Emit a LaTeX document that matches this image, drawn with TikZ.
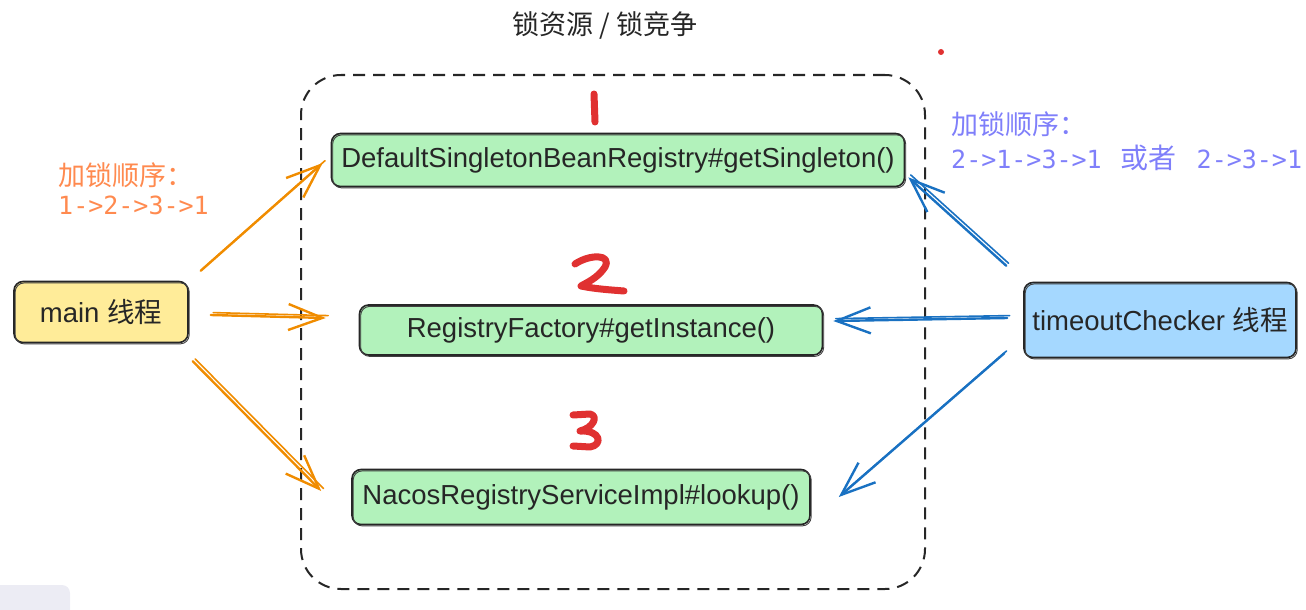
\documentclass[tikz,border=0pt]{standalone}
\usepackage{fontspec}
\setmainfont{Liberation Sans}
\newfontfamily\cjk{Noto Sans CJK SC}
\newfontfamily\monof{DejaVu Sans Mono}
\usetikzlibrary{arrows.meta,calc}
\definecolor{greenF}{HTML}{B2F2BB}
\definecolor{yellowF}{HTML}{FFEC99}
\definecolor{blueF}{HTML}{A5D8FF}
\definecolor{orangeA}{HTML}{F08C00}
\definecolor{orangeT}{HTML}{FF8A4F}
\definecolor{blueA}{HTML}{1971C2}
\definecolor{blueT}{HTML}{7F7FFA}
\definecolor{redN}{HTML}{E03131}
\definecolor{uiGray}{HTML}{ECECF4}
\begin{document}
\begin{tikzpicture}[x=1pt,y=-1pt,
  box/.style={draw=black!85, line width=1.6pt, rounded corners=9pt, inner sep=0pt,
    text=black!85, font=\fontsize{27.5}{31}\selectfont,
    postaction={draw=black!75, line width=0.9pt, transform canvas={shift={(1.2pt,-1.4pt)}}}},
  oarr/.style={draw=orangeA, line width=2.4pt, line cap=round, -{Straight Barb[length=34pt,width=26pt]},
    postaction={draw=orangeA, -, line width=1.6pt, transform canvas={shift={(2.4pt,2.4pt)}}}},
  barr/.style={draw=blueA, line width=2.4pt, line cap=round, -{Straight Barb[length=34pt,width=26pt]},
    postaction={draw=blueA, -, line width=1.6pt, transform canvas={shift={(2.4pt,2.4pt)}}}},
  num/.style={draw=redN, line width=7pt, line cap=round, line join=round},
  lbl/.style={inner sep=0pt, font=\fontsize{27}{31}\selectfont}
]
\useasboundingbox (0,0) rectangle (1306,610);

% screenshot UI remnant
\fill[uiGray, rounded corners=8pt] (-10,585) rectangle (70,630);

% title
\node[lbl, text=black!85] (title) at (605,25) {\cjk{锁资源} / \cjk{锁竞争}};

% dashed lock area
\node[draw=black!85, line width=2pt, dash pattern=on 12pt off 8pt, rounded corners=40pt,
  minimum width=624pt, minimum height=514pt, inner sep=0pt] (area) at (613,332) {};

% resource boxes
\node[box, fill=greenF, minimum width=573pt, minimum height=53pt] (r1) at (618,160)
  {DefaultSingletonBeanRegistry\#getSingleton()};
\node[box, fill=greenF, minimum width=463pt, minimum height=50pt] (r2) at (591,330)
  {RegistryFactory\#getInstance()};
\node[box, fill=greenF, minimum width=458pt, minimum height=55pt] (r3) at (581,497)
  {NacosRegistryServiceImpl\#lookup()};

% thread boxes
\node[box, fill=yellowF, minimum width=174pt, minimum height=61pt] (main) at (101,312)
  {main \cjk{线程}};
\node[box, fill=blueF, minimum width=272pt, minimum height=75pt] (tc) at (1160,320)
  {timeoutChecker \cjk{线程}};

% order texts
\node[lbl, text=orangeT, anchor=west] (ot1) at (58,175) {\cjk{加锁顺序：}};
\node[lbl, text=orangeT, anchor=west, font=\monof\fontsize{25}{30}\selectfont] (ot2) at (58,205) {1->2->3->1};
\node[lbl, text=blueT, anchor=west] (bt1) at (951,124) {\cjk{加锁顺序：}};
\node[lbl, text=blueT, anchor=west, font=\monof\fontsize{25}{30}\selectfont] (bt2) at (951,158)
  {2->1->3->1\hspace{19pt}{\cjk\fontsize{28}{30}\selectfont 或者}\hspace{20pt}2->3->1};

% red numbers
\draw[num] (594,94) -- (595,122);
\draw[num] (575,264) .. controls (590,254) and (612,254) .. (605,267)
  .. controls (598,278) and (586,283) .. (581,286)
  .. controls (595,289) and (612,290) .. (624,291);
\draw[num] (573,415) -- (590,414) .. controls (599,416) and (593,428) .. (580,431)
  .. controls (601,430) and (603,445) .. (590,447) -- (573,446);

% red dot
\fill[redN] (941,52) circle (3pt);

% orange arrows (main thread)
\draw[oarr] ($(main.north east)+(12,-10)$) -- ($(r1.west)+(-8,3)$);
\draw[oarr] ($(main.east)+(22,3)$) -- ($(r2.west)+(-33,-12)$);
\draw[oarr] ($(main.south east)+(4,18)$) -- ($(r3.west)+(-30,-6)$);

% blue arrows (timeoutChecker thread)
\draw[barr] ($(tc.north west)+(-17,-16)$) -- ($(r1.south east)+(3,-10)$);
\draw[barr] ($(tc.west)+(-16,-2)$) -- ($(r2.east)+(10,-9)$);
\draw[barr] ($(tc.south west)+(-19,-5)$) -- ($(r3.east)+(28,0)$);
\end{tikzpicture}
\end{document}
